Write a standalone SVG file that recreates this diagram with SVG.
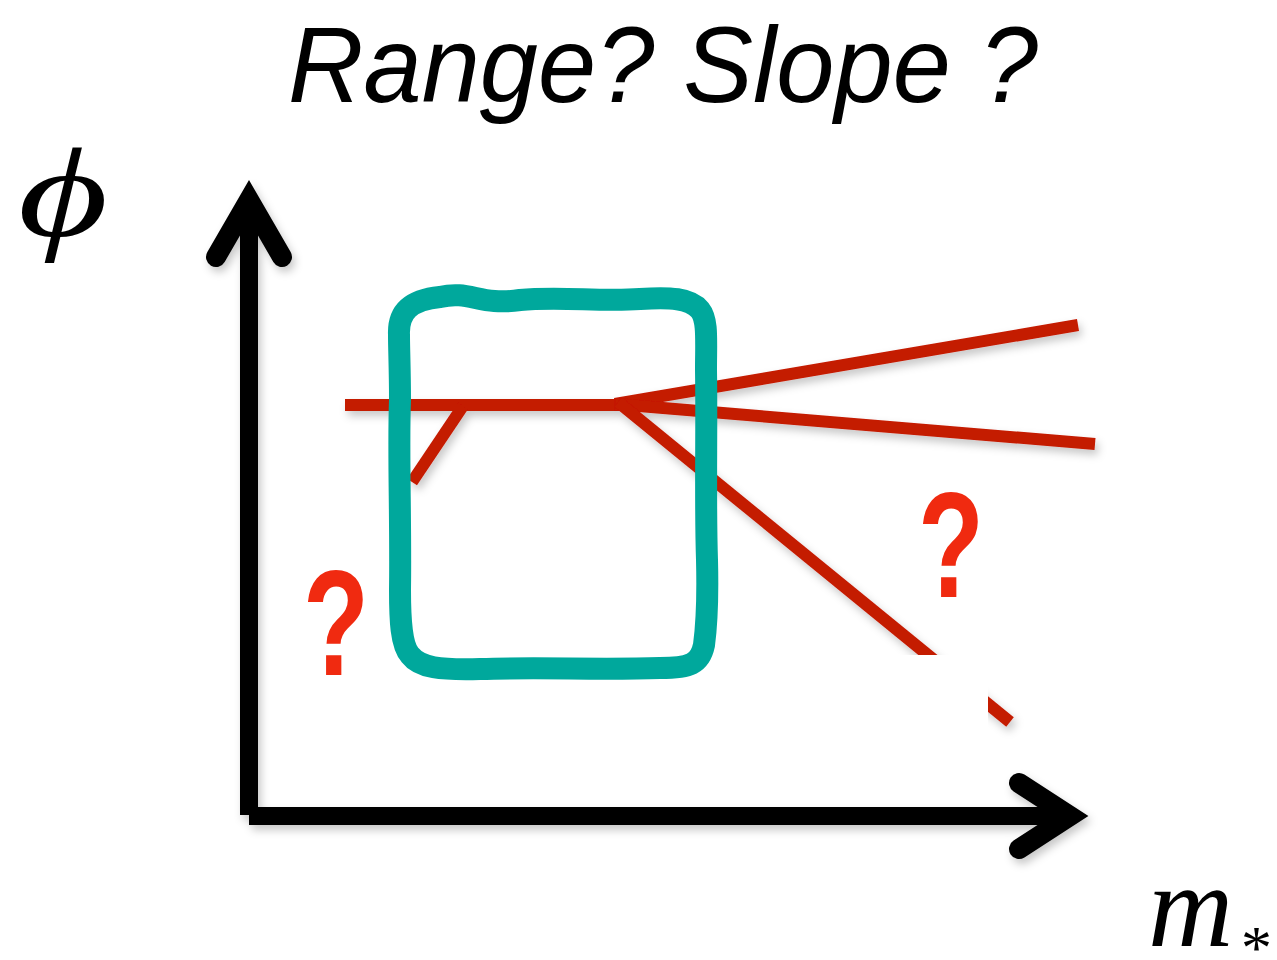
<svg xmlns="http://www.w3.org/2000/svg" width="1277" height="960" viewBox="0 0 1277 960">
  <defs>
    <filter id="shadow" x="-20%" y="-20%" width="140%" height="140%">
      <feDropShadow dx="3" dy="5" stdDeviation="4" flood-color="#000" flood-opacity="0.22"/>
    </filter>
    <style>
      .axis { fill: none; stroke: #000; stroke-width: 18; }
      .head { fill: none; stroke: #000; stroke-width: 20; stroke-linecap: round; stroke-linejoin: miter; stroke-miterlimit: 10; }
      .red { fill: none; stroke: #c41a05; stroke-width: 12; stroke-linecap: butt; }
      .q { font-family: "Liberation Sans", Arial, sans-serif; font-weight: bold; fill: #f02a10; }
      .math { font-family: "Liberation Serif", "Times New Roman", serif; font-style: italic; fill: #000; }
    </style>
  </defs>
  <rect width="1277" height="960" fill="#fff"/>

  <g id="title">
    <text x="288" y="102" font-family="Liberation Sans, Arial, sans-serif" font-style="italic" font-size="108" textLength="750" lengthAdjust="spacingAndGlyphs" fill="#000">Range? Slope ?</text>
  </g>

  <g id="phi-label">
    <text class="math" transform="translate(18,236) scale(1.38,1)" x="0" y="0" font-size="126">ϕ</text>
  </g>

  <g id="mstar-label">
    <text class="math" x="1148" y="946" font-size="118">m</text>
    <text class="math" x="1238" y="968" font-size="62" font-style="normal">*</text>
  </g>

  <g id="curves" filter="url(#shadow)">
    <line class="red" x1="345" y1="405" x2="622" y2="405"/>
    <line class="red" x1="463" y1="406" x2="412" y2="482"/>
    <line class="red" x1="615" y1="404" x2="1078" y2="325"/>
    <line class="red" x1="615" y1="404" x2="1095" y2="444"/>
    <line class="red" x1="618" y1="402" x2="1010" y2="722"/>
  </g>

  <g id="mask">
    <rect x="795" y="655" width="193" height="152" fill="#fff"/>
  </g>

  <g id="axes" filter="url(#shadow)">
    <line class="axis" x1="249" y1="200" x2="249" y2="815"/>
    <line class="axis" x1="249" y1="816" x2="1070" y2="816"/>
    <polyline class="head" points="216,257 249,200 282,257"/>
    <polyline class="head" points="1019,783 1070,816 1019,849"/>
  </g>

  <g id="question-left">
    <text class="q" transform="translate(303,675) scale(0.72,1)" x="0" y="0" font-size="150">?</text>
  </g>
  <g id="question-right">
    <text class="q" transform="translate(918,597) scale(0.72,1)" x="0" y="0" font-size="150">?</text>
  </g>

  <g id="highlight">
    <path d="M 399 335 C 398 312 410 300 440 297 C 470 290 480 306 520 300 C 560 296 600 302 640 299 C 670 297 690 298 700 310 C 708 320 706 340 706 370 C 707 430 705 500 707 560 C 708 600 706 630 704 645 C 700 664 690 668 660 668 C 600 670 540 667 480 669 C 440 670 420 668 410 655 C 401 645 400 620 400 590 C 401 520 398 450 400 400 C 400 370 399 350 399 335 Z" fill="none" stroke="#00a89c" stroke-width="22" stroke-linejoin="round"/>
  </g>
</svg>
